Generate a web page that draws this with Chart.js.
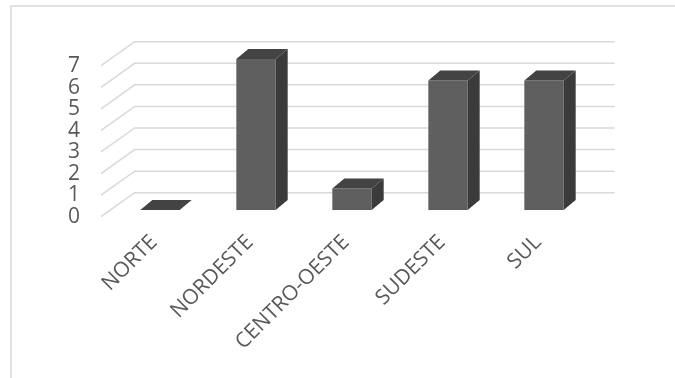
<!DOCTYPE html>
<html>
<head>
<meta charset="utf-8">
<script src="https://cdn.jsdelivr.net/npm/chart.js@4"></script>
<style>
  html, body { margin: 0; padding: 0; background: #fff; }
  #wrap { width: 675px; height: 378px; }
</style>
</head>
<body>
<div id="wrap"><canvas id="regioes"></canvas></div>
<script>
// Values per region
const regioes = ["NORTE", "NORDESTE", "CENTRO-OESTE", "SUDESTE", "SUL"];
const quantidade = [0, 7, 1, 6, 6];
const yTicks = [0, 1, 2, 3, 4, 5, 6, 7];

// depth of the fake 3d box
const barDepth = { dx: 12, dy: -10 };
const wallBack = { dx: 22.7, dy: -17.3 };
const floorFront = { dx: -11, dy: 6.7 };

const gridColor = "#d9d9d9";

const frame3d = {
  id: "frame3d",
  beforeDraw(chart) {
    const ctx = chart.ctx;
    ctx.save();
    ctx.strokeStyle = gridColor;
    ctx.lineWidth = 1.5;
    ctx.beginPath();
    ctx.moveTo(11, 378);
    ctx.lineTo(11, 6);
    ctx.lineTo(675, 6);
    ctx.stroke();
    ctx.restore();
  },
  beforeDatasetsDraw(chart) {
    const ctx = chart.ctx;
    const area = chart.chartArea;
    const y = chart.scales.y;
    ctx.save();
    ctx.strokeStyle = gridColor;
    ctx.lineWidth = 1.5;
    yTicks.forEach(v => {
      const p = y.getPixelForValue(v);
      ctx.beginPath();
      ctx.moveTo(area.left + floorFront.dx, p + floorFront.dy);
      ctx.lineTo(area.left + wallBack.dx, p + wallBack.dy);
      ctx.lineTo(area.right + wallBack.dx, p + wallBack.dy);
      ctx.stroke();
    });
    ctx.restore();
  },
  afterDatasetsDraw(chart) {
    const ctx = chart.ctx;
    const meta = chart.getDatasetMeta(0);
    const { dx, dy } = barDepth;
    ctx.save();
    meta.data.forEach(bar => {
      const { x, y, base, width } = bar.getProps(["x", "y", "base", "width"], true);
      const l = x - width / 2, r = x + width / 2;
      // side
      ctx.fillStyle = "#3b3b3b";
      ctx.beginPath();
      ctx.moveTo(r, y);
      ctx.lineTo(r + dx, y + dy);
      ctx.lineTo(r + dx, base + dy);
      ctx.lineTo(r, base);
      ctx.closePath();
      ctx.fill();
      // top
      ctx.fillStyle = "#434343";
      ctx.beginPath();
      ctx.moveTo(l, y);
      ctx.lineTo(l + dx, y + dy);
      ctx.lineTo(r + dx, y + dy);
      ctx.lineTo(r, y);
      ctx.closePath();
      ctx.fill();
    });
    ctx.restore();
  }
};

const ctx = document.getElementById("regioes").getContext("2d");
new Chart(ctx, {
  type: "bar",
  data: {
    labels: regioes,
    datasets: [{
      data: quantidade,
      backgroundColor: "#5f5f5f",
      borderWidth: 0,
      categoryPercentage: 1,
      barPercentage: 0.41
    }]
  },
  options: {
    responsive: true,
    maintainAspectRatio: false,
    animation: false,
    layout: { padding: { left: 0, top: 59, right: 83, bottom: 0 } },
    plugins: {
      legend: { display: false },
      tooltip: { enabled: false }
    },
    scales: {
      x: {
        grid: { display: false, drawTicks: false },
        border: { display: false },
        ticks: {
          autoSkip: false,
          minRotation: 45,
          maxRotation: 45,
          padding: 20,
          labelOffset: -6,
          color: "#595959",
          font: { family: "'Open Sans'", size: 21 }
        },
        afterFit(scale) { scale.height = 168; }
      },
      y: {
        min: 0,
        max: 7,
        grid: { display: false, drawTicks: false },
        border: { display: false },
        ticks: {
          autoSkip: false,
          stepSize: 1,
          padding: 32,
          labelOffset: 7,
          color: "#595959",
          font: { family: "'Open Sans'", size: 21 }
        },
        afterFit(scale) { scale.width = 112; }
      }
    }
  },
  plugins: [frame3d]
});
</script>
</body>
</html>
